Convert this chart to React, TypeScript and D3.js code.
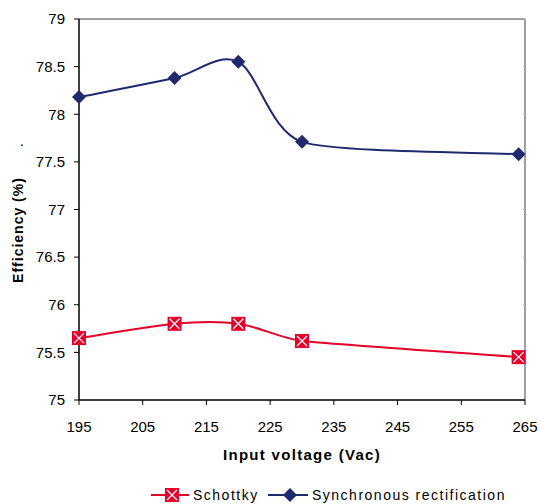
import { useEffect, useRef } from 'react';
import * as d3 from 'd3';

const voltages = [195, 210, 220, 230, 264];
const schottky = [75.65, 75.8, 75.8, 75.62, 75.45];
const synchronous = [78.18, 78.38, 78.55, 77.71, 77.58];

const xTicks = [195, 205, 215, 225, 235, 245, 255, 265];
const yTicks = [75, 75.5, 76, 76.5, 77, 77.5, 78, 78.5, 79];

const WIDTH = 540;
const HEIGHT = 504;
const MARGIN = { top: 19, right: 15, bottom: 104, left: 79 };
const FONT = '"Liberation Sans", Arial, sans-serif';

const RED = '#e4002b';
const NAVY = '#1f2a6e';

// Spreadsheet-style smoothed line: bezier handles along the neighbour chord,
// 1/6 of its length, but never longer than a third of the shorter adjacent segment.
function smoothPath(pts: [number, number][]): string {
  const p = d3.path();
  const n = pts.length;
  const dist = (a: [number, number], b: [number, number]) => Math.hypot(b[0] - a[0], b[1] - a[1]);
  const handle = (i: number): [number, number] => {
    const prev = pts[Math.max(0, i - 1)];
    const next = pts[Math.min(n - 1, i + 1)];
    const tx = next[0] - prev[0];
    const ty = next[1] - prev[1];
    const len = Math.hypot(tx, ty) || 1;
    let h = len / 6;
    const dPrev = i > 0 ? dist(pts[i - 1], pts[i]) : Infinity;
    const dNext = i < n - 1 ? dist(pts[i], pts[i + 1]) : Infinity;
    h = Math.min(h, Math.min(dPrev, dNext) / 3);
    return [(tx / len) * h, (ty / len) * h];
  };
  p.moveTo(pts[0][0], pts[0][1]);
  for (let i = 0; i < n - 1; i++) {
    const h0 = handle(i);
    const h1 = handle(i + 1);
    p.bezierCurveTo(
      pts[i][0] + h0[0], pts[i][1] + h0[1],
      pts[i + 1][0] - h1[0], pts[i + 1][1] - h1[1],
      pts[i + 1][0], pts[i + 1][1],
    );
  }
  return p.toString();
}

export default function App() {
  const svgRef = useRef<SVGSVGElement>(null);

  useEffect(() => {
    if (!svgRef.current) return;
    const svg = d3.select(svgRef.current);
    svg.selectAll('*').remove();

    const x = d3.scaleLinear().domain([195, 265]).range([MARGIN.left, WIDTH - MARGIN.right]);
    const y = d3.scaleLinear().domain([75, 79]).range([HEIGHT - MARGIN.bottom, MARGIN.top]);
    const x0 = x(195);
    const x1 = x(265);
    const y0 = y(75);
    const y1 = y(79);

    // Frame: grey top/right, black left/bottom axes
    svg.append('line').attr('x1', x0).attr('x2', x1).attr('y1', y1).attr('y2', y1)
      .attr('stroke', '#808080').attr('stroke-width', 1.5);
    svg.append('line').attr('x1', x1).attr('x2', x1).attr('y1', y1).attr('y2', y0)
      .attr('stroke', '#808080').attr('stroke-width', 1.5);
    // small inner ticks on right border
    yTicks.forEach(t => {
      svg.append('line').attr('x1', x1 - 2).attr('x2', x1).attr('y1', y(t)).attr('y2', y(t))
        .attr('stroke', '#b0b0b0').attr('stroke-width', 1);
    });

    // Y axis
    svg.append('line').attr('x1', x0).attr('x2', x0).attr('y1', y1).attr('y2', y0)
      .attr('stroke', '#000').attr('stroke-width', 1.5);
    yTicks.forEach(t => {
      svg.append('line').attr('x1', x0 - 5).attr('x2', x0).attr('y1', y(t)).attr('y2', y(t))
        .attr('stroke', '#000').attr('stroke-width', 1);
      svg.append('text')
        .attr('x', 65).attr('y', y(t)).attr('dy', '0.35em')
        .attr('text-anchor', 'end')
        .attr('font-family', FONT).attr('font-size', 15).attr('fill', '#000')
        .text(String(t));
    });

    // X axis
    svg.append('line').attr('x1', x0).attr('x2', x1).attr('y1', y0).attr('y2', y0)
      .attr('stroke', '#000').attr('stroke-width', 1.5);
    xTicks.forEach(t => {
      svg.append('line').attr('x1', x(t)).attr('x2', x(t)).attr('y1', y0).attr('y2', y0 + 5)
        .attr('stroke', '#000').attr('stroke-width', 1);
      svg.append('text')
        .attr('x', x(t)).attr('y', y0 + 27).attr('dy', '0.35em')
        .attr('text-anchor', 'middle')
        .attr('font-family', FONT).attr('font-size', 15).attr('fill', '#000')
        .text(String(t));
    });

    // Axis titles
    svg.append('text')
      .attr('x', 302).attr('y', 455).attr('dy', '0.35em')
      .attr('text-anchor', 'middle')
      .attr('font-family', FONT).attr('font-size', 15).attr('font-weight', 'bold')
      .attr('letter-spacing', 1.3).attr('fill', '#000')
      .text('Input voltage (Vac)');
    svg.append('text')
      .attr('transform', 'translate(18, 230) rotate(-90)')
      .attr('dy', '0.35em')
      .attr('text-anchor', 'middle')
      .attr('font-family', FONT).attr('font-size', 14).attr('font-weight', 'bold')
      .attr('letter-spacing', 1).attr('fill', '#000')
      .text('Efficiency (%)');
    svg.append('text')
      .attr('x', 22).attr('y', 146)
      .attr('text-anchor', 'middle')
      .attr('font-family', FONT).attr('font-size', 14).attr('fill', '#000')
      .text('.');

    const toPts = (vals: number[]) =>
      vals.map((v, i) => [x(voltages[i]), y(v)] as [number, number]);

    const drawDiamond = (g: any, cx: number, cy: number) => {
      const r = 7;
      g.append('path')
        .attr('d', `M${cx},${cy - r}L${cx + r},${cy}L${cx},${cy + r}L${cx - r},${cy}Z`)
        .attr('fill', NAVY);
    };
    const drawBoxX = (g: any, cx: number, cy: number) => {
      const r = 7;
      g.append('rect').attr('x', cx - r).attr('y', cy - r).attr('width', 2 * r).attr('height', 2 * r)
        .attr('fill', RED);
      g.append('path')
        .attr('d', `M${cx - 5},${cy - 5}L${cx + 5},${cy + 5}M${cx + 5},${cy - 5}L${cx - 5},${cy + 5}`)
        .attr('stroke', '#fff').attr('stroke-width', 1.3);
    };

    // Series lines
    svg.append('path').attr('d', smoothPath(toPts(synchronous)))
      .attr('fill', 'none').attr('stroke', NAVY).attr('stroke-width', 2);
    svg.append('path').attr('d', smoothPath(toPts(schottky)))
      .attr('fill', 'none').attr('stroke', RED).attr('stroke-width', 2);

    synchronous.forEach((v, i) => drawDiamond(svg, x(voltages[i]), y(v)));
    schottky.forEach((v, i) => drawBoxX(svg, x(voltages[i]), y(v)));

    // Legend
    const ly = 495;
    svg.append('line').attr('x1', 151).attr('x2', 189).attr('y1', ly).attr('y2', ly)
      .attr('stroke', RED).attr('stroke-width', 2);
    drawBoxX(svg, 172, ly);
    svg.append('text')
      .attr('x', 193).attr('y', ly).attr('dy', '0.35em')
      .attr('font-family', FONT).attr('font-size', 14).attr('letter-spacing', 1.5).attr('fill', '#000')
      .text('Schottky');
    svg.append('line').attr('x1', 268).attr('x2', 308).attr('y1', ly).attr('y2', ly)
      .attr('stroke', NAVY).attr('stroke-width', 2);
    drawDiamond(svg, 290, ly);
    svg.append('text')
      .attr('x', 312).attr('y', ly).attr('dy', '0.35em')
      .attr('font-family', FONT).attr('font-size', 14).attr('letter-spacing', 1.5).attr('fill', '#000')
      .text('Synchronous rectification');
  }, []);

  return (
    <svg
      ref={svgRef}
      width={WIDTH}
      height={HEIGHT}
      style={{ position: 'absolute', left: 0, top: 0, background: '#fff', display: 'block' }}
    />
  );
}
